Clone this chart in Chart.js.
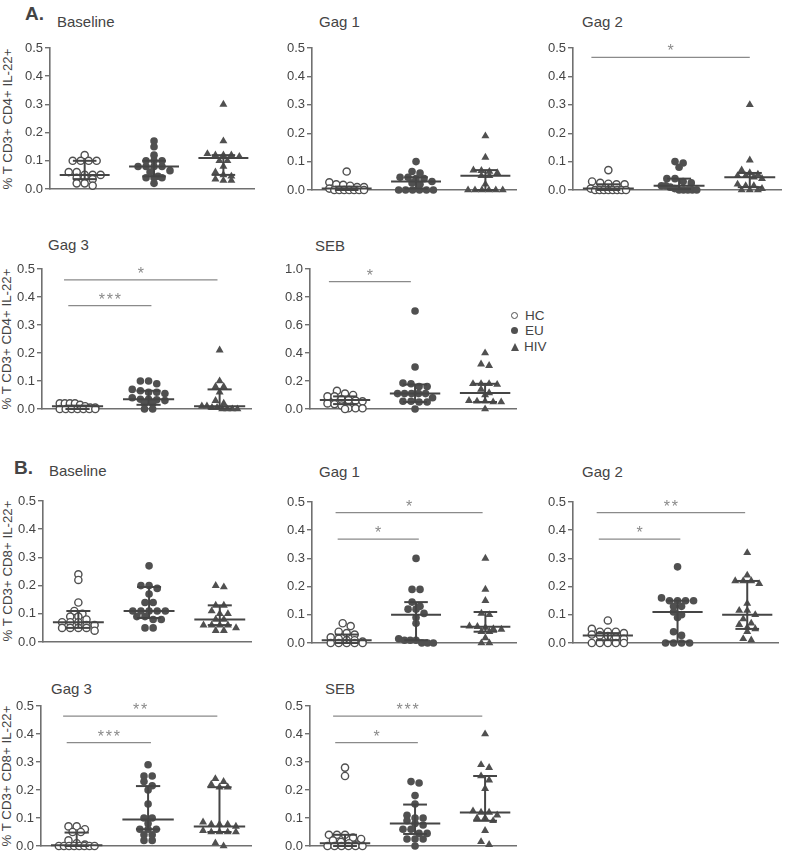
<!DOCTYPE html>
<html>
<head>
<meta charset="utf-8">
<script src="https://cdn.jsdelivr.net/npm/chart.js@4.4.1/dist/chart.umd.min.js"></script>
<style>
  body { margin: 0; background: #fff; width: 787px; height: 852px; position: relative; overflow: hidden;
         font-family: "Liberation Sans", Arial, sans-serif; color: #444; }
  canvas { position: absolute; }
  .t  { position: absolute; font-size: 15px; line-height: 1; white-space: nowrap; }
  .lt { position: absolute; font-size: 19px; font-weight: bold; line-height: 1; color: #444; }
  .yt { position: absolute; font-size: 13.3px; line-height: 1; white-space: nowrap;
        transform: translate(-50%, -50%) rotate(-90deg); }
  .lg { position: absolute; left: 511px; font-size: 13.5px; line-height: 1; white-space: nowrap; }
  .mk { display: inline-block; width: 7px; height: 7px; border-radius: 50%; margin-right: 7px; box-sizing: border-box; vertical-align: 1px; }
  .mk.hc { border: 1.5px solid #505050; background: #fff; }
  .mk.eu { background: #505050; }
  .mk.hiv { width: 0; height: 0; border-radius: 0; border-left: 4.5px solid transparent; border-right: 4.5px solid transparent;
            border-bottom: 8px solid #505050; margin-right: 5px; vertical-align: 0; }
</style>
</head>
<body>

<div class="lt" style="left:25px;top:4px">A.</div>
<div class="lt" style="left:14px;top:458px">B.</div>

<div class="t" style="left:57px;top:14px">Baseline</div>
<div class="t" style="left:319px;top:14px">Gag 1</div>
<div class="t" style="left:582px;top:14px">Gag 2</div>
<div class="t" style="left:48px;top:237px">Gag 3</div>
<div class="t" style="left:315px;top:238px">SEB</div>
<div class="t" style="left:49px;top:463px">Baseline</div>
<div class="t" style="left:319px;top:464px">Gag 1</div>
<div class="t" style="left:582px;top:464px">Gag 2</div>
<div class="t" style="left:51px;top:681px">Gag 3</div>
<div class="t" style="left:325px;top:681px">SEB</div>

<div class="yt" style="left:8px;top:119px">% T CD3+ CD4+ IL-22+</div>
<div class="yt" style="left:7px;top:339px">% T CD3+ CD4+ IL-22+</div>
<div class="yt" style="left:8px;top:571px">% T CD3+ CD8+ IL-22+</div>
<div class="yt" style="left:7px;top:776px">% T CD3+ CD8+ IL-22+</div>

<div class="lg" style="top:309px"><span class="mk hc"></span>HC</div>
<div class="lg" style="top:324px"><span class="mk eu"></span>EU</div>
<div class="lg" style="top:340px"><span class="mk hiv"></span>HIV</div>

<script>
// groups on the x axis (1 = HC, 2 = EU, 3 = HIV)
const groups = ['HC', 'EU', 'HIV'];

// ---- A. CD4+ ----
const aBaseHC  = [0.12, 0.10, 0.10, 0.10, 0.10, 0.06, 0.06, 0.05, 0.05, 0.05, 0.04, 0.04, 0.035, 0.02, 0.02, 0.012];
const aBaseEU  = [0.17, 0.15, 0.12, 0.10, 0.10, 0.10, 0.08, 0.08, 0.08, 0.08, 0.065, 0.06, 0.045, 0.04, 0.04, 0.04, 0.02];
const aBaseHIV = [0.30, 0.17, 0.125, 0.12, 0.12, 0.12, 0.115, 0.10, 0.10, 0.08, 0.06, 0.05, 0.045, 0.035, 0.03, 0.03];
const aBaseMed = [0.05, 0.08, 0.11], aBaseQ1 = [0.035, 0.045, 0.05], aBaseQ3 = [0.10, 0.10, 0.12];

const aG1HC  = [0.065, 0.027, 0.02, 0.018, 0.015, 0.01, 0.01, 0.005, 0, 0, 0, 0, 0, 0, 0];
const aG1EU  = [0.10, 0.065, 0.06, 0.045, 0.045, 0.04, 0.04, 0.03, 0.025, 0.02, 0, 0, 0, 0, 0, 0];
const aG1HIV = [0.19, 0.115, 0.07, 0.068, 0.065, 0.06, 0.05, 0.05, 0.02, 0, 0, 0, 0, 0, 0];
const aG1Med = [0.005, 0.03, 0.05], aG1Q1 = [0, 0.005, 0], aG1Q3 = [0.012, 0.045, 0.07];

const aG2HC  = [0.07, 0.03, 0.025, 0.022, 0.02, 0.02, 0.005, 0, 0, 0, 0, 0, 0, 0, 0];
const aG2EU  = [0.10, 0.095, 0.08, 0.04, 0.04, 0.03, 0.025, 0.015, 0.015, 0.01, 0.005, 0, 0, 0, 0, 0];
const aG2HIV = [0.30, 0.105, 0.07, 0.06, 0.055, 0.05, 0.05, 0.045, 0.04, 0.02, 0.015, 0.015, 0.005, 0, 0, 0];
const aG2Med = [0.005, 0.015, 0.045], aG2Q1 = [0, 0.003, 0.01], aG2Q3 = [0.02, 0.04, 0.06];

const aG3HC  = [0.02, 0.02, 0.02, 0.02, 0.015, 0.01, 0.005, 0.005, 0, 0, 0, 0, 0, 0, 0];
const aG3EU  = [0.10, 0.10, 0.09, 0.07, 0.065, 0.06, 0.06, 0.055, 0.04, 0.035, 0.035, 0.033, 0.03, 0.02, 0.02, 0, 0];
const aG3HIV = [0.21, 0.10, 0.08, 0.08, 0.06, 0.03, 0.02, 0.01, 0.01, 0.005, 0.005, 0, 0, 0, 0];
const aG3Med = [0.01, 0.035, 0.01], aG3Q1 = [0, 0.015, 0.002], aG3Q3 = [0.012, 0.065, 0.07];

const aSebHC  = [0.13, 0.11, 0.10, 0.09, 0.09, 0.07, 0.065, 0.06, 0.055, 0.04, 0.035, 0.025, 0.005, 0.005, 0.005, 0];
const aSebEU  = [0.70, 0.30, 0.185, 0.18, 0.16, 0.16, 0.11, 0.11, 0.11, 0.11, 0.11, 0.08, 0.055, 0.055, 0.05, 0.05, 0];
const aSebHIV = [0.40, 0.32, 0.31, 0.18, 0.18, 0.18, 0.175, 0.14, 0.115, 0.10, 0.06, 0.055, 0.055, 0.05, 0.05, 0];
const aSebMed = [0.065, 0.11, 0.115], aSebQ1 = [0.035, 0.05, 0.05], aSebQ3 = [0.09, 0.175, 0.18];

// ---- B. CD8+ ----
const bBaseHC  = [0.24, 0.22, 0.14, 0.11, 0.10, 0.09, 0.09, 0.08, 0.07, 0.07, 0.07, 0.06, 0.06, 0.05, 0.05, 0.05, 0.05, 0.04];
const bBaseEU  = [0.27, 0.20, 0.20, 0.19, 0.17, 0.14, 0.14, 0.11, 0.11, 0.11, 0.11, 0.11, 0.09, 0.09, 0.08, 0.08, 0.05, 0.05];
const bBaseHIV = [0.20, 0.195, 0.13, 0.13, 0.11, 0.10, 0.10, 0.08, 0.08, 0.06, 0.06, 0.06, 0.06, 0.05, 0.04, 0.04];
const bBaseMed = [0.07, 0.11, 0.08], bBaseQ1 = [0.05, 0.085, 0.06], bBaseQ3 = [0.11, 0.195, 0.13];

const bG1HC  = [0.07, 0.06, 0.04, 0.035, 0.03, 0.02, 0.015, 0.01, 0.01, 0.005, 0, 0, 0, 0, 0];
const bG1EU  = [0.30, 0.19, 0.19, 0.145, 0.13, 0.12, 0.12, 0.105, 0.09, 0.07, 0.015, 0.01, 0.01, 0.01, 0, 0, 0];
const bG1HIV = [0.30, 0.19, 0.15, 0.105, 0.10, 0.06, 0.058, 0.055, 0.05, 0.048, 0.04, 0.04, 0.018, 0, 0];
const bG1Med = [0.01, 0.10, 0.058], bG1Q1 = [0, 0.01, 0.04], bG1Q3 = [0.03, 0.145, 0.11];

const bG2HC  = [0.08, 0.05, 0.04, 0.04, 0.04, 0.035, 0.03, 0.027, 0.025, 0.02, 0.015, 0, 0, 0, 0, 0];
const bG2EU  = [0.27, 0.16, 0.15, 0.15, 0.15, 0.15, 0.13, 0.13, 0.11, 0.10, 0.09, 0.04, 0.027, 0, 0, 0, 0];
const bG2HIV = [0.32, 0.24, 0.22, 0.22, 0.22, 0.21, 0.14, 0.115, 0.115, 0.10, 0.085, 0.07, 0.065, 0.055, 0.05, 0.04, 0.015, 0.01];
const bG2Med = [0.027, 0.11, 0.10], bG2Q1 = [0.01, 0.005, 0.05], bG2Q3 = [0.035, 0.15, 0.22];

const bG3HC  = [0.07, 0.07, 0.06, 0.05, 0.05, 0.02, 0.01, 0.005, 0, 0, 0, 0, 0, 0, 0, 0];
const bG3EU  = [0.29, 0.25, 0.25, 0.23, 0.215, 0.20, 0.15, 0.10, 0.10, 0.08, 0.06, 0.06, 0.06, 0.04, 0.04, 0.02, 0.02];
const bG3HIV = [0.24, 0.23, 0.22, 0.21, 0.21, 0.085, 0.077, 0.077, 0.077, 0.07, 0.055, 0.05, 0.05, 0.05, 0.05, 0.01, 0];
const bG3Med = [0.003, 0.095, 0.07], bG3Q1 = [0, 0.06, 0.05], bG3Q3 = [0.048, 0.214, 0.21];

const bSebHC  = [0.28, 0.25, 0.04, 0.04, 0.04, 0.03, 0.025, 0.02, 0.015, 0.01, 0.005, 0, 0, 0, 0, 0, 0];
const bSebEU  = [0.23, 0.225, 0.18, 0.15, 0.11, 0.10, 0.10, 0.09, 0.08, 0.075, 0.06, 0.06, 0.045, 0.045, 0.025, 0.025, 0.025, 0];
const bSebHIV = [0.40, 0.29, 0.28, 0.25, 0.235, 0.205, 0.125, 0.12, 0.12, 0.11, 0.10, 0.10, 0.09, 0.055, 0.015, 0.005];
const bSebMed = [0.01, 0.08, 0.12], bSebQ1 = [0, 0.043, 0.09], bSebQ3 = [0.04, 0.148, 0.25];

// significance bars: [x from, x to, level, label]
const aG2Sig  = [[0.76, 3.0, 0.467, '*']];
const aG3Sig  = [[0.81, 2.97, 0.461, '*'], [0.87, 2.04, 0.369, '***']];
const aSebSig = [[0.77, 1.94, 0.91, '*']];
const bG1Sig  = [[0.84, 2.96, 0.462, '*'], [0.87, 2.04, 0.368, '*']];
const bG2Sig  = [[0.84, 2.97, 0.462, '**'], [0.87, 2.04, 0.368, '*']];
const bG3Sig  = [[0.81, 2.97, 0.464, '**'], [0.86, 2.04, 0.369, '***']];
const bSebSig = [[0.83, 2.96, 0.464, '***'], [0.86, 2.04, 0.369, '*']];

// panel layout (page pixels): y axis x, top of axis, zero line, end of x axis
const panels = [
  { d: [aBaseHC, aBaseEU, aBaseHIV], med: aBaseMed, q1: aBaseQ1, q3: aBaseQ3, sig: [],      max: 0.5, ax: 50,  top: 48.3,  y0: 189.3, end: 258 },
  { d: [aG1HC, aG1EU, aG1HIV],       med: aG1Med,   q1: aG1Q1,   q3: aG1Q3,   sig: [],      max: 0.5, ax: 312, top: 47.8,  y0: 189.3, end: 520 },
  { d: [aG2HC, aG2EU, aG2HIV],       med: aG2Med,   q1: aG2Q1,   q3: aG2Q3,   sig: aG2Sig,  max: 0.5, ax: 573, top: 48.3,  y0: 190.5, end: 785 },
  { d: [aG3HC, aG3EU, aG3HIV],       med: aG3Med,   q1: aG3Q1,   q3: aG3Q3,   sig: aG3Sig,  max: 0.5, ax: 42,  top: 269,   y0: 409.3, end: 255 },
  { d: [aSebHC, aSebEU, aSebHIV],    med: aSebMed,  q1: aSebQ1,  q3: aSebQ3,  sig: aSebSig, max: 1.0, ax: 310, top: 269,   y0: 409.3, end: 520 },
  { d: [bBaseHC, bBaseEU, bBaseHIV], med: bBaseMed, q1: bBaseQ1, q3: bBaseQ3, sig: [],      max: 0.5, ax: 43,  top: 500.7, y0: 642,   end: 255 },
  { d: [bG1HC, bG1EU, bG1HIV],       med: bG1Med,   q1: bG1Q1,   q3: bG1Q3,   sig: bG1Sig,  max: 0.5, ax: 312, top: 501.7, y0: 642.7, end: 520 },
  { d: [bG2HC, bG2EU, bG2HIV],       med: bG2Med,   q1: bG2Q1,   q3: bG2Q3,   sig: bG2Sig,  max: 0.5, ax: 573, top: 501.7, y0: 642.7, end: 782 },
  { d: [bG3HC, bG3EU, bG3HIV],       med: bG3Med,   q1: bG3Q1,   q3: bG3Q3,   sig: bG3Sig,  max: 0.5, ax: 41,  top: 705.7, y0: 845.7, end: 255 },
  { d: [bSebHC, bSebEU, bSebHIV],    med: bSebMed,  q1: bSebQ1,  q3: bSebQ3,  sig: bSebSig, max: 0.5, ax: 310, top: 705.7, y0: 845.7, end: 520 }
];

const DARK = '#505050', AXIS = '#707070', SIG = '#8a8a8a';
const FONT = '"Liberation Sans", Arial, sans-serif';

// spread points with close values side by side (like a column scatter)
function swarm(vals, centre, tol) {
  const sorted = vals.slice().sort((a, b) => b - a);
  const rows = [];
  sorted.forEach(v => {
    const r = rows[rows.length - 1];
    if (r && r[0] - v <= tol) r.push(v); else rows.push([v]);
  });
  const out = [];
  rows.forEach(r => {
    const n = r.length;
    const step = n > 1 ? Math.min(0.115, 0.5 / (n - 1)) : 0;
    r.forEach((v, i) => out.push({ x: centre + (i - (n - 1) / 2) * step, y: v }));
  });
  return out;
}

function seg(x1, y1, x2, y2, color, width) {
  return { data: [{ x: x1, y: y1 }, { x: x2, y: y2 }], showLine: true, pointRadius: 0,
           borderColor: color, borderWidth: width, clip: false };
}

// significance stars above each bar
const starPlugin = {
  id: 'stars',
  afterDatasetsDraw(chart, args, opts) {
    const { ctx, scales: { x, y } } = chart;
    ctx.save();
    ctx.fillStyle = SIG;
    ctx.font = '16px ' + FONT;
    ctx.textAlign = 'center';
    ctx.textBaseline = 'alphabetic';
    (opts.sig || []).forEach(s => {
      const cx = x.getPixelForValue((s[0] + s[1]) / 2);
      const cy = y.getPixelForValue(s[2]) - 1;
      const n = s[3].length;
      for (let i = 0; i < n; i++) ctx.fillText('*', cx + (i - (n - 1) / 2) * 8, cy);
    });
    ctx.restore();
  }
};

const styles = [
  { pointStyle: 'circle',   pointRadius: 3.6, backgroundColor: '#fff', borderColor: DARK, borderWidth: 1.4 },
  { pointStyle: 'circle',   pointRadius: 3.8, backgroundColor: DARK,   borderColor: DARK, borderWidth: 0 },
  { pointStyle: 'triangle', pointRadius: 4.6, backgroundColor: DARK,   borderColor: DARK, borderWidth: 0 }
];

panels.forEach(p => {
  const yW = 40, padT = 12, padB = 10, padR = 2;
  const c = document.createElement('canvas');
  c.width = Math.round(p.end - p.ax) + yW + padR;
  c.height = Math.round(p.y0 - p.top) + padT + padB;
  c.style.left = (p.ax - yW) + 'px';
  c.style.top = (p.top - padT) + 'px';
  document.body.appendChild(c);

  const tol = p.max * 0.035;
  const datasets = [];
  // median and interquartile range bars
  for (let g = 0; g < 3; g++) {
    const cx = g + 1;
    datasets.push(seg(cx - 0.36, p.med[g], cx + 0.36, p.med[g], '#454545', 2));
    datasets.push(seg(cx, p.q1[g], cx, p.q3[g], '#454545', 2));
    datasets.push(seg(cx - 0.17, p.q3[g], cx + 0.17, p.q3[g], '#454545', 2));
    datasets.push(seg(cx - 0.17, p.q1[g], cx + 0.17, p.q1[g], '#454545', 2));
  }
  p.sig.forEach(s => datasets.push(seg(s[0], s[2], s[1], s[2], SIG, 1.2)));
  p.d.forEach((vals, g) => {
    datasets.push(Object.assign({ label: groups[g], data: swarm(vals, g + 1, tol), clip: false }, styles[g]));
  });

  new Chart(c, {
    type: 'scatter',
    data: { datasets },
    options: {
      responsive: false,
      animation: false,
      events: [],
      layout: { padding: { top: padT, bottom: padB, left: 0, right: padR } },
      plugins: { legend: { display: false }, tooltip: { enabled: false }, stars: { sig: p.sig } },
      scales: {
        x: {
          type: 'linear', min: 0.5, max: 3.45,
          ticks: { display: false },
          grid: { display: false },
          border: { display: true, color: AXIS, width: 1.6 },
          afterFit: s => { s.height = 0; }
        },
        y: {
          min: 0, max: p.max,
          ticks: { stepSize: p.max / 5, padding: 2, color: '#444', font: { size: 13, family: FONT },
                   callback: v => v.toFixed(1) },
          grid: { drawOnChartArea: false, drawTicks: true, tickLength: 5, color: AXIS, lineWidth: 1.4 },
          border: { display: true, color: AXIS, width: 1.6 },
          afterFit: s => { s.width = yW; }
        }
      }
    },
    plugins: [starPlugin]
  });
});
</script>
</body>
</html>
